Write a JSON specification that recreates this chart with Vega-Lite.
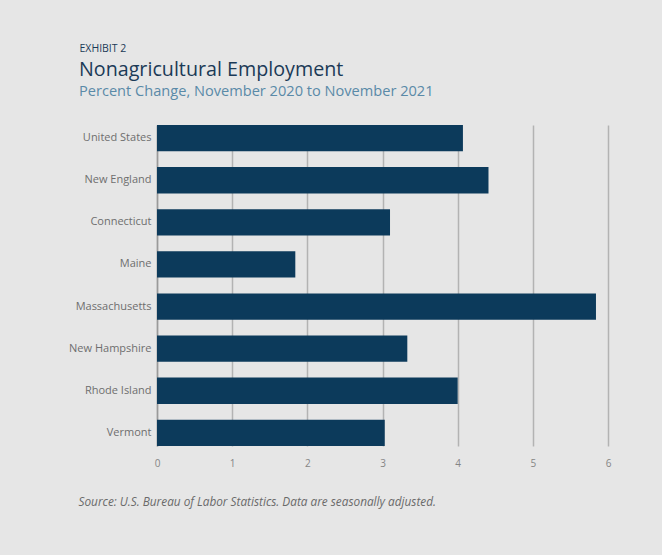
{
  "$schema": "https://vega.github.io/schema/vega-lite/v6.json",
  "autosize": "none",
  "width": 451,
  "height": 321,
  "padding": {"left": 157, "top": 125, "right": 54, "bottom": 109},
  "background": "#e6e6e6",
  "title": {
    "text": "Nonagricultural Employment",
    "subtitle": "Percent Change, November 2020 to November 2021",
    "anchor": "start",
    "frame": "group",
    "dx": -78,
    "dy": 66,
    "offset": 10,
    "font": "Open Sans",
    "fontSize": 19.7,
    "fontWeight": "normal",
    "color": "#1b3a57",
    "subtitleFont": "Open Sans",
    "subtitleFontSize": 14.6,
    "subtitleColor": "#5a8aa8",
    "subtitlePadding": 5
  },
  "data": {
    "values": [
      {"region": "United States", "pct": 4.07},
      {"region": "New England", "pct": 4.41},
      {"region": "Connecticut", "pct": 3.1},
      {"region": "Maine", "pct": 1.84},
      {"region": "Massachusetts", "pct": 5.84},
      {"region": "New Hampshire", "pct": 3.33},
      {"region": "Rhode Island", "pct": 4.0},
      {"region": "Vermont", "pct": 3.03}
    ]
  },
  "mark": {"type": "bar", "color": "#0c3a5b"},
  "encoding": {
    "y": {
      "field": "region",
      "type": "nominal",
      "sort": null,
      "scale": {"paddingInner": 0.375, "paddingOuter": 0},
      "axis": {
        "title": "EXHIBIT 2",
        "titleAngle": 0,
        "titleAlign": "left",
        "titleBaseline": "alphabetic",
        "titleX": -78,
        "titleY": -74,
        "titleFont": "Open Sans",
        "titleFontSize": 10.5,
        "titleFontWeight": "normal",
        "titleColor": "#1b3a57",
        "labelFont": "Open Sans",
        "labelFontSize": 11,
        "labelColor": "#6e6e6e",
        "labelPadding": 6,
        "ticks": false,
        "domain": true,
        "domainColor": "#9a9a9a",
        "domainWidth": 1.5,
        "grid": false
      }
    },
    "x": {
      "field": "pct",
      "type": "quantitative",
      "scale": {"domain": [0, 6], "nice": false},
      "axis": {
        "values": [0, 1, 2, 3, 4, 5, 6],
        "labelFlush": false,
        "title": "Source: U.S. Bureau of Labor Statistics. Data are seasonally adjusted.",
        "titleAnchor": "start",
        "titleAlign": "left",
        "titleBaseline": "alphabetic",
        "titleX": -79,
        "titleY": 59,
        "titleFont": "Open Sans",
        "titleFontSize": 11.8,
        "titleFontStyle": "italic",
        "titleFontWeight": "normal",
        "titleColor": "#6a6a6a",
        "labelFont": "Open Sans",
        "labelFontSize": 10,
        "labelColor": "#858585",
        "labelPadding": 12,
        "ticks": false,
        "domain": false,
        "grid": true,
        "gridColor": "#b3b3b3",
        "gridWidth": 1.5
      }
    }
  },
  "config": {
    "view": {"stroke": null}
  }
}
